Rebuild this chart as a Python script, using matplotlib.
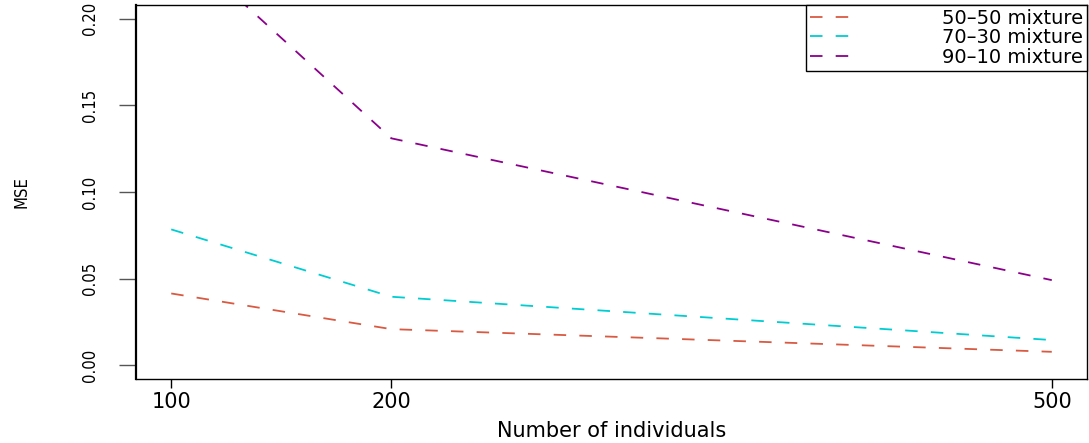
import matplotlib
matplotlib.use('Agg')
import matplotlib.pyplot as plt

# values
n_individuals = [100, 200, 500]
mse_50_50 = [0.0414, 0.0208, 0.0077]
mse_70_30 = [0.0784, 0.0395, 0.0145]
mse_90_10 = [0.247, 0.131, 0.0491]
labels = ['50\u201350 mixture', '70\u201330 mixture', '90\u201310 mixture']
colors = ['#d95a42', '#00cdd2', '#8b008b']
y_ticks = [0.00, 0.05, 0.10, 0.15, 0.20]

plt.rcParams['lines.scale_dashes'] = False

fig = plt.figure(figsize=(10.89, 4.43), dpi=100)
ax = fig.add_axes([136/1089, 1 - 379/443, (1087 - 136)/1089, (379 - 5)/443])

for ys, c, lab in zip([mse_50_50, mse_70_30, mse_90_10], colors, labels):
    ax.plot(n_individuals, ys, color=c, lw=1.3, dashes=(9, 9.5), label=lab)

ax.set_xlim(84, 516)
ax.set_ylim(-0.008, 0.208)
ax.set_xticks(n_individuals)
ax.set_xticklabels([str(v) for v in n_individuals], fontsize=15)
ax.set_yticks(y_ticks)
ax.set_yticklabels(['%.2f' % v for v in y_ticks], fontsize=12,
                   fontstretch='condensed', rotation=90, va='center')

ax.tick_params(axis='y', length=12, width=1, pad=15, color='#555555')
ax.tick_params(axis='x', length=6.5, width=1, pad=3)
for s in ax.spines.values():
    s.set_linewidth(1)
ax.spines['left'].set_linewidth(1.6)

ax.set_xlabel('Number of individuals', fontsize=15, va='center')
ax.xaxis.set_label_coords(0.5, (379 - 431) / 374)
ax.set_ylabel('MSE', fontsize=12, fontstretch='condensed', va='center')
ax.yaxis.set_label_coords((21 - 136) / 951, 0.5)

leg = ax.legend(loc='upper right', bbox_to_anchor=(1, 1), borderaxespad=0,
                fancybox=False, edgecolor='black', framealpha=1,
                fontsize=14, handlelength=2.2, handletextpad=4.6,
                labelspacing=0.02, borderpad=0.2)
leg.get_frame().set_linewidth(1)

fig.savefig('out.png', dpi=100)
